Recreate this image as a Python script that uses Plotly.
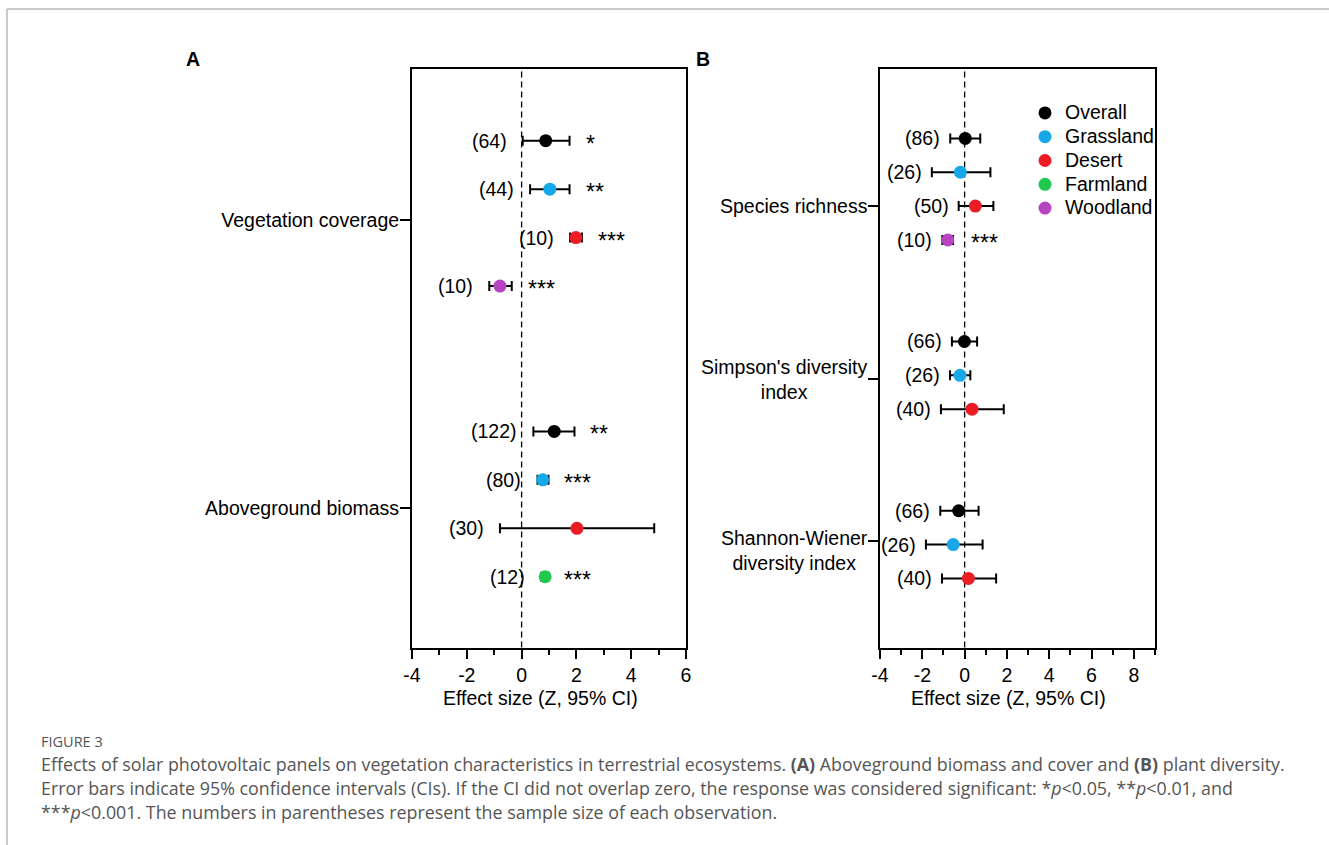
import plotly.graph_objects as go

# ---------------- data: panel A (aboveground biomass and cover) ----------------
a_categories = ["Vegetation coverage", "Aboveground biomass"]
a_group_sizes = [4, 4]
a_habitats = ["Overall", "Grassland", "Desert", "Woodland",
              "Overall", "Grassland", "Desert", "Farmland"]
a_effect = [0.88, 1.03, 1.98, -0.79, 1.19, 0.77, 2.02, 0.86]
a_ci_low = [0.04, 0.31, 1.77, -1.18, 0.43, 0.58, -0.79, 0.72]
a_ci_high = [1.75, 1.75, 2.20, -0.36, 1.93, 0.98, 4.84, 0.98]
a_n = [64, 44, 10, 10, 122, 80, 30, 12]
a_sig = ["*", "**", "***", "***", "**", "***", "", "***"]

# ---------------- data: panel B (plant diversity) ----------------
b_categories = ["Species richness", "Simpson's diversity<br>index",
                "Shannon-Wiener<br>diversity index"]
b_group_sizes = [4, 3, 3]
b_habitats = ["Overall", "Grassland", "Desert", "Woodland",
              "Overall", "Grassland", "Desert",
              "Overall", "Grassland", "Desert"]
b_effect = [0.03, -0.20, 0.51, -0.79, -0.01, -0.22, 0.35, -0.28, -0.54, 0.18]
b_ci_low = [-0.68, -1.55, -0.28, -1.05, -0.60, -0.69, -1.12, -1.15, -1.83, -1.07]
b_ci_high = [0.74, 1.22, 1.36, -0.55, 0.59, 0.27, 1.85, 0.66, 0.85, 1.49]
b_n = [86, 26, 50, 10, 66, 26, 40, 66, 26, 40]
b_sig = ["", "", "", "***", "", "", "", "", "", ""]

habitat_order = ["Overall", "Grassland", "Desert", "Farmland", "Woodland"]

x_ticks_a = [-4, -2, 0, 2, 4, 6]
x_ticks_b = [-4, -2, 0, 2, 4, 6, 8]

caption_label = "FIGURE 3"
caption_lines = [
    "Effects of solar photovoltaic panels on vegetation characteristics in terrestrial ecosystems. "
    "<b>(A)</b> Aboveground biomass and cover and <b>(B)</b> plant diversity.",
    "Error bars indicate 95% confidence intervals (CIs). If the CI did not overlap zero, the response "
    "was considered significant: *<i>p</i>&lt;0.05, **<i>p</i>&lt;0.01, and",
    "***<i>p</i>&lt;0.001. The numbers in parentheses represent the sample size of each observation.",
]

# ---------------- style ----------------
W, H = 1329, 845
FONT = "Arial, Liberation Sans, sans-serif"
CAP_FONT = "Open Sans, Lato, sans-serif"
FS = 19.5
colors = {"Overall": "#000000", "Grassland": "#17A8EA", "Desert": "#EC1C24",
          "Farmland": "#1FC94E", "Woodland": "#B645BF"}


def px_x(p):
    return p / W


def px_y(p):
    return 1 - p / H


def row_positions(sizes, gap=2):
    out, r = [], 0
    for s in sizes:
        out += [r + i for i in range(s)]
        r += s + gap
    return out


a_rows = row_positions(a_group_sizes)
b_rows = row_positions(b_group_sizes)

# category tick positions on the row scale (as in the original layout)
a_tick_pos = [1.64, 7.58]
b_tick_pos = [2.01, 7.12, 11.89]
b_label_shift = [0, 0, -10]

fig = go.Figure()

panels = [
    dict(xa="x", ya="y", hab=a_habitats, eff=a_effect, lo=a_ci_low, hi=a_ci_high,
         n=a_n, sig=a_sig, rows=a_rows, nshift=-14, sshift=14),
    dict(xa="x2", ya="y2", hab=b_habitats, eff=b_effect, lo=b_ci_low, hi=b_ci_high,
         n=b_n, sig=b_sig, rows=b_rows, nshift=-8, sshift=16),
]

shown = set()
annotations = []
for p in panels:
    for h in habitat_order:
        idx = [i for i, v in enumerate(p["hab"]) if v == h]
        if not idx:
            continue
        fig.add_trace(go.Scatter(
            x=[p["eff"][i] for i in idx],
            y=[p["rows"][i] for i in idx],
            xaxis=p["xa"], yaxis=p["ya"],
            mode="markers",
            name='<span style="font-size:19.5px">' + h + "</span>" + "&nbsp;" * 5,
            legendgroup=h,
            showlegend=h not in shown,
            marker=dict(color=colors[h], size=13, line=dict(width=0)),
            error_x=dict(type="data", symmetric=False,
                         array=[p["hi"][i] - p["eff"][i] for i in idx],
                         arrayminus=[p["eff"][i] - p["lo"][i] for i in idx],
                         color="black", thickness=2, width=5),
        ))
        shown.add(h)
    for i in range(len(p["eff"])):
        annotations.append(dict(
            x=p["lo"][i], y=p["rows"][i], xref=p["xa"], yref=p["ya"],
            text="(%d)" % p["n"][i], showarrow=False, xanchor="right", yanchor="middle",
            xshift=p["nshift"], font=dict(size=FS, color="black", family=FONT)))
        if p["sig"][i]:
            annotations.append(dict(
                x=p["hi"][i], y=p["rows"][i], xref=p["xa"], yref=p["ya"],
                text=p["sig"][i], showarrow=False, xanchor="left", yanchor="middle",
                xshift=p["sshift"], yshift=-3,
                font=dict(size=23, color="black", family=FONT)))

# panel B category labels (centred multi-line)
for lab, pos, sh in zip(b_categories, b_tick_pos, b_label_shift):
    annotations.append(dict(
        x=0, xref="x2 domain", y=pos, yref="y2", text=lab, showarrow=False,
        xanchor="right", yanchor="middle", align="center", xshift=-10, yshift=sh,
        font=dict(size=FS, color="black", family=FONT)))

# x-axis titles
for xa, dom in (("x", (412, 686)), ("x2", (880, 1155))):
    annotations.append(dict(
        x=px_x((dom[0] + dom[1]) / 2), y=px_y(698), xref="paper", yref="paper",
        text="Effect size (Z, 95% CI)", showarrow=False, xanchor="center", yanchor="middle",
        xshift=-9, font=dict(size=FS, color="black", family=FONT)))

# panel letters
for letter, xp in (("A", 193), ("B", 703)):
    annotations.append(dict(
        x=px_x(xp), y=px_y(59), xref="paper", yref="paper", text="<b>%s</b>" % letter,
        showarrow=False, xanchor="center", yanchor="middle",
        font=dict(size=FS, color="black", family=FONT)))

# caption
annotations.append(dict(
    x=px_x(39), y=px_y(741), xref="paper", yref="paper", text=caption_label,
    showarrow=False, xanchor="left", yanchor="middle",
    font=dict(size=14.5, color="#555555", family=CAP_FONT)))
for k, line in enumerate(caption_lines):
    annotations.append(dict(
        x=px_x(39), y=px_y(764 + 24 * k), xref="paper", yref="paper", text=line,
        showarrow=False, xanchor="left", yanchor="middle",
        font=dict(size=17.85, color="#555555", family=CAP_FONT)))

shapes = [
    dict(type="line", xref="x", yref="y domain", x0=0, x1=0, y0=0, y1=1,
         line=dict(color="black", width=1.3, dash="6px,4px"), layer="below"),
    dict(type="line", xref="x2", yref="y2 domain", x0=0, x1=0, y0=0, y1=1,
         line=dict(color="black", width=1.3, dash="6px,4px"), layer="below"),
    dict(type="line", xref="paper", yref="paper", x0=px_x(7), x1=1, y0=px_y(9), y1=px_y(9),
         line=dict(color="#b8b8b8", width=1.5)),
    dict(type="line", xref="paper", yref="paper", x0=px_x(7), x1=px_x(7), y0=0, y1=px_y(9),
         line=dict(color="#b8b8b8", width=1.5)),
]

ydom = [px_y(647.5), px_y(69)]
xaxis_common = dict(showline=True, linecolor="black", linewidth=2, mirror=True,
                    showgrid=False, zeroline=False, ticks="outside", ticklen=9,
                    tickwidth=2, tickcolor="black", automargin=False,
                    tickfont=dict(size=FS, color="black", family=FONT),
                    minor=dict(ticks="outside", dtick=1, ticklen=5, tickwidth=2,
                               tickcolor="black", showgrid=False))
yaxis_common = dict(showline=True, linecolor="black", linewidth=2, mirror=True,
                    showgrid=False, zeroline=False, ticks="outside", ticklen=10,
                    tickwidth=2, tickcolor="black", automargin=False,
                    tickfont=dict(size=FS, color="black", family=FONT))

fig.update_layout(
    width=W, height=H, margin=dict(l=0, r=0, t=0, b=0, pad=0, autoexpand=False),
    paper_bgcolor="white", plot_bgcolor="white",
    font=dict(family=FONT, size=FS, color="black"),
    xaxis=dict(domain=[px_x(412), px_x(686)], range=[-4, 6], tickvals=x_ticks_a,
               ticktext=[str(v) for v in x_ticks_a], anchor="y", **xaxis_common),
    xaxis2=dict(domain=[px_x(880), px_x(1155)], range=[-4, 9], tickvals=x_ticks_b,
                ticktext=[str(v) for v in x_ticks_b], anchor="y2", **xaxis_common),
    yaxis=dict(domain=ydom, range=[10.46, -1.48], tickvals=a_tick_pos,
               ticktext=a_categories, anchor="x", ticklabelstandoff=-3, **yaxis_common),
    yaxis2=dict(domain=ydom, range=[15.04, -2.05], tickvals=b_tick_pos,
                ticktext=["", "", ""], anchor="x2", **yaxis_common),
    showlegend=True,
    legend=dict(x=px_x(1025), y=px_y(96), xanchor="left", yanchor="top",
                bgcolor="rgba(0,0,0,0)", borderwidth=0,
                font=dict(size=16, color="black", family=FONT),
                tracegroupgap=0),
    annotations=annotations,
    shapes=shapes,
)

fig.write_html("out.html", config={"displayModeBar": False},
               post_script="document.body.style.margin='0';document.body.style.padding='0';")
